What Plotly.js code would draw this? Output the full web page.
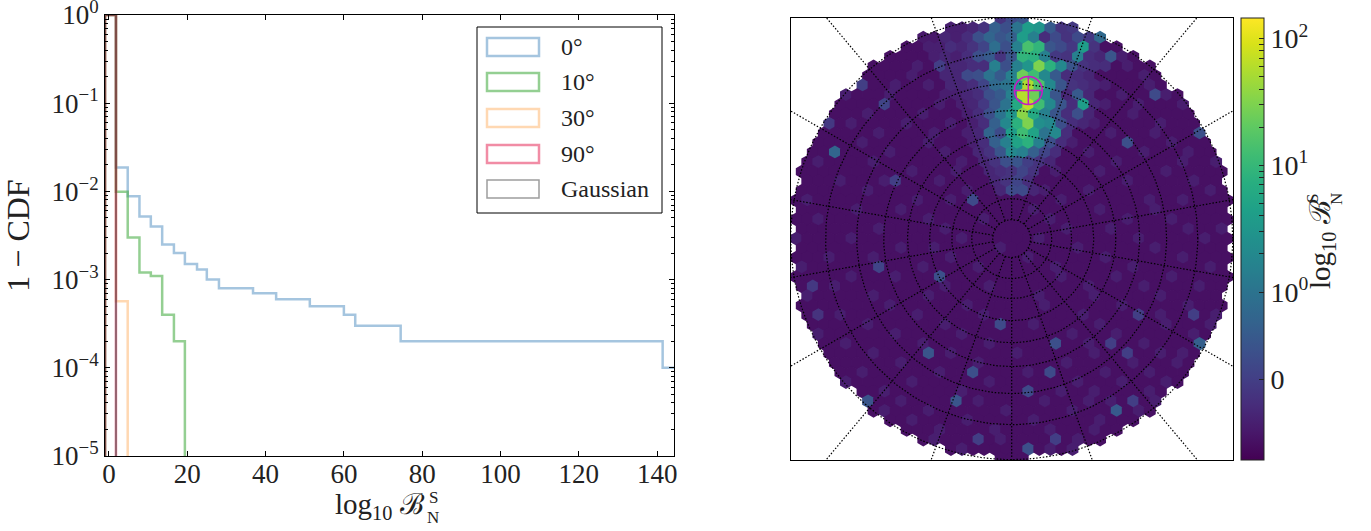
<!DOCTYPE html>
<html><head><meta charset="utf-8">
<script src="https://cdn.plot.ly/plotly-3.0.1.min.js"></script>
<style>html,body{margin:0;padding:0;background:#fff}#c{width:1371px;height:531px}</style></head>
<body><div id="c"></div>
<script>
const W=1371,H=531;
const FONT='"Liberation Serif","DejaVu Serif",serif';
const seriesNames=['0°','10°','30°','90°','Gaussian'];
const seriesColors=['rgba(55,126,184,0.45)','rgba(77,175,74,0.6)','rgba(255,127,0,0.3)','rgba(228,26,76,0.5)','rgba(60,60,60,0.5)'];
const x0=[-1,-1,1.8,4.8,7.8,10.7,13.6,16.6,19.4,22.5,25,28.1,36.8,42.7,51.3,60,62.9,74.5,141.4,144.5];
const y0=[1e-6,1,0.0187,0.0088,0.0052,0.004,0.0025,0.002,0.0015,0.0013,0.001,0.0008,0.0007,0.0006,0.0005,0.0004,0.0003,0.0002,0.0001,0.0001];
const x10=[-1,-1,1.8,4.8,7.8,10.7,13.6,16.6,19.4];
const y10=[1e-6,1,0.0099,0.003,0.0012,0.0011,0.0004,0.0002,1e-6];
const x30=[-1,-1,1.8,4.8];
const y30=[1e-6,1,0.00057,1e-6];
const x90=[-1,-1,1.8];
const y90=[1e-6,1,1e-6];
const xG=[-1,-1,1.8];
const yG=[1e-6,1,1e-6];
const yMajor=[1,0.1,0.01,0.001,0.0001,0.00001];
const yMajorText=['10<sup>0</sup>','10<sup>−1</sup>','10<sup>−2</sup>','10<sup>−3</sup>','10<sup>−4</sup>','10<sup>−5</sup>'];
const yMinor=[];
[0.1,0.01,0.001,0.0001,0.00001].forEach(d=>{[2,3,4,5,6,7,8,9].forEach(m=>yMinor.push(m*d));});

// sky map: default cell value, faint cells, and read-off cells [row, u, values at u, u+2, ...]
const skyBase=-0.72;
const skyFaintValue=-0.52;
const skyFaint=[
[3,[-20,-10,22]],[4,[-24,-14,20,26]],[5,[-27,-17,21,29]],[6,[-28,-18,12,24,30]],
[7,[-21,-15,17,25]],[8,[-30,-22,-12,20,28]],[9,[-33,-13,17,23,31]],[10,[-26,-16,12,22,34]],
[11,[-29,-19,-11,15,27]],[12,[-36,-24,-14,18,26,36]],[13,[-27,-15,11,29]],[14,[-22,-12,14,24,32]],
[15,[-35,-25,-9,19,31,37]],[16,[-18,-10,8,16,28]],[17,[-31,-23,-13,21,33]],[18,[-26,-8,6,14,36]],
[19,[-37,-17,-11,9,25,31]],[20,[-28,-20,4,16,26]],[21,[-35,-15,-5,7,21,29]],[22,[-24,-12,10,18,32,38]],
[23,[-39,-29,-9,5,23,35]],[24,[-20,-14,-2,12,26]],[25,[-33,-25,-11,3,17,31]],[26,[-38,-16,-6,8,22,36]],
[27,[-29,-21,9,19,29]],[28,[-32,-12,-4,14,24,34]],[29,[-37,-25,-15,5,15,27]],[30,[-22,-8,6,20,32]],
[31,[-31,-17,-5,13,27,37]],[32,[-26,-12,4,16,28,36]],[33,[-35,-21,-9,11,19,33]],[34,[-30,-16,-4,14,24]],
[35,[-25,-11,1,15,27,31]],[36,[-34,-20,-6,10,22,30]],[37,[-27,-13,3,17,25]],[38,[-30,-18,-4,12,20,28]],
[39,[-23,-9,9,15,25]],[40,[-20,-6,6,14,18,26]],[41,[-23,-15,-1,11,23]],[42,[-18,-8,4,16]],
[43,[-13,-3,7,15]],[44,[-14,-2,12]],[45,[-9,7,11]]
];
const skyCells=[
[0,-6,[-.5,-.3,-.2,.2,.4,1.2,2.2,1,.5,-.2]],
[1,-13,[-.6,-.5,-.5,-.4,-.2,.6,.3,1,4,3,.5,-.2,-.1,2.5,-.3]],
[2,-16,[-.6,-.6,-.4,-.5,-.3,.3,.7,.4,.6,4,1.5,-.3,.2,-.2,.2,-.1,.8,-.4]],
[3,-15,[-.5,-.5,-.3,-.4,-.2,.1,.9,.3,1.5,14,9,.4,.2,-.1,4,-.2]],
[4,-14,[-.5,-.4,-.5,-.3,.3,.5,-.2,.4,9,8,1.5,-.1,-.2,1.5,-.3,-.4,.4]],
[5,-13,[0,-.4,-.4,-.3,-.3,1.5,.3,1.5,3,30,8,2,.4,-.2,-.3,-.3]],
[6,-12,[-.4,-.4,.2,.3,1,.5,1.5,25,12,2,.5,-.3,-.3,-.4]],
[7,-27,[0]],
[7,-11,[-.4,-.4,-.3,.1,.8,1,3,55,15,2,.4,-.2,-.3,-.4]],
[8,-10,[-.5,-.4,-.3,.3,.5,1.5,60,25,2.5,.4,-.4,.5,-.4]],
[8,26,[.2]],
[9,-23,[.1]],
[9,-9,[-.5,-.4,-.1,.4,1,6,65,12,2,.4,-.3,4,-.4]],
[10,-8,[-.5,-.3,.3,1,3,35,6,1.5,.4,-.3,.3,-.4]],
[11,-33,[-.1]],
[11,-7,[-.5,-.3,.6,2,8,30,2.5,2,.3,-.3,-.4]],
[12,-8,[-.5,-.4,.7,.2,4,12,5,1,2,-.3]],
[12,34,[.3]],
[13,-7,[-.5,-.3,.6,1.5,5,8,1.5,.3,-.3]],
[13,21,[.3]],
[14,-32,[.7]],
[14,-6,[-.4,-.2,.4,2,1.5,.6,.1,-.3]],
[15,-5,[-.4,-.2,.3,.4,0,-.2,-.4]],
[16,-4,[-.4,-.3,-.2,.1,-.2]],
[17,-21,[0]],
[17,-3,[-.4,-.2,.1,-.3]],
[18,-2,[-.4,.2,.2,-.4]],
[19,-7,[.2]],
[19,36,[0,0,.5]],
[21,34,[0]],
[27,-13,[.3]],
[26,-24,[.1]],
[28,-36,[-.1]],
[31,-35,[-.2]],
[31,23,[0]],
[31,33,[0]],
[32,-2,[.2]],
[34,8,[.3]],
[34,18,[0]],
[34,34,[.6]],
[35,-15,[.4]],
[35,21,[0]],
[37,-7,[.3]],
[37,7,[.2]],
[39,3,[.2]],
[39,29,[.2]],
[40,-26,[.4]],
[40,-10,[.4]],
[40,22,[0]],
[41,19,[.5]],
[43,21,[.2]],
[44,-6,[0]],
[44,8,[0]],
[45,3,[.3]]
];
const skyMarker={x:0.0753,y:0.670};
const ringRadii=[.086,.181,.271,.371,.471,.579,.701,.842,1];
const spokeAngles=[0,20,40,60,80,100,120,140,160,180,200,220,240,260,280,300,320,340];
const cbValues=[0,1,2,3,4,5,6,7,8,9,10,20,30,40,50,60,70,80,90,100];
const cbLabels={0:'0',1:'10<sup>0</sup>',10:'10<sup>1</sup>',100:'10<sup>2</sup>'};
const xTicks=[0,20,40,60,80,100,120,140];

function scalePos(v){return v>=1?Math.log10(v):(v-1)*0.687;}

const lookup={};
skyFaint.forEach(([j,us])=>us.forEach(u=>{lookup[j+'_'+u]=skyFaintValue;}));
skyCells.forEach(([j,u,vals])=>vals.forEach((v,i)=>{lookup[j+'_'+(u+2*i)]=v;}));
const hx=[],hy=[],hc=[];
for(let j=0;j<=46;j++){
  for(let u=-41;u<=41;u++){
    if(((u%2)+2)%2!==j%2)continue;
    const x=u*0.025,y=(23-j)*0.0433;
    if(Math.hypot(x,y)>1.0)continue;
    const k=j+'_'+u;
    hx.push(x);hy.push(y);hc.push(scalePos(k in lookup?lookup[k]:skyBase));
  }
}
const traces=[];
[[x0,y0],[x10,y10],[x30,y30],[x90,y90],[xG,yG]].forEach((s,i)=>{
  traces.push({x:s[0],y:s[1],type:'scatter',mode:'lines',name:seriesNames[i],showlegend:false,hoverinfo:'skip',
    line:{shape:'hv',color:seriesColors[i],width:i==4?2:2.5},xaxis:'x',yaxis:'y'});
});
traces.push({x:hx,y:hy,type:'scatter',mode:'markers',xaxis:'x2',yaxis:'y2',showlegend:false,hoverinfo:'skip',
  marker:{symbol:'hexagon',size:13.7,color:hc,cmin:-1.326,cmax:2.163,colorscale:'Viridis',line:{width:0},
    colorbar:{x:1241/W,xanchor:'left',y:1-18/H,yanchor:'top',xpad:0,ypad:0,thicknessmode:'pixels',thickness:23,
      lenmode:'pixels',len:442,outlinewidth:1,outlinecolor:'#222',ticks:'inside',ticklen:5,tickcolor:'#222',
      tickmode:'array',tickvals:cbValues.map(scalePos),ticktext:cbValues.map(v=>cbLabels[v]||''),
      tickfont:{family:FONT,size:28,color:'#222'}}}});
ringRadii.forEach(r=>{
  const xs=[],ys=[];
  for(let a=0;a<=360;a+=2){xs.push(r*Math.cos(a*Math.PI/180));ys.push(r*Math.sin(a*Math.PI/180));}
  traces.push({x:xs,y:ys,type:'scatter',mode:'lines',xaxis:'x2',yaxis:'y2',showlegend:false,hoverinfo:'skip',
    line:{color:'#000',width:1.2,dash:'1.5px,1.8px'}});
});
spokeAngles.forEach(a=>{
  const t=a*Math.PI/180;
  traces.push({x:[.086*Math.sin(t),2*Math.sin(t)],y:[.086*Math.cos(t),2*Math.cos(t)],type:'scatter',mode:'lines',xaxis:'x2',yaxis:'y2',showlegend:false,hoverinfo:'skip',
    line:{color:'#000',width:1.2,dash:'1.5px,1.8px'}});
});
traces.push({x:[skyMarker.x],y:[skyMarker.y],type:'scatter',mode:'markers',xaxis:'x2',yaxis:'y2',showlegend:false,hoverinfo:'skip',
  marker:{symbol:'circle-cross-open',size:28,color:'#c71bc4',line:{color:'#c71bc4',width:1.5}}});

const px=v=>v/W, py=v=>1-v/H;
const shapes=[{type:'rect',xref:'paper',yref:'paper',x0:px(477),x1:px(662),y0:py(213),y1:py(27),line:{color:'#000',width:1},fillcolor:'#fff',layer:'above'}];
const annots=[];
const legY=[47,82,118,154,189];
seriesNames.forEach((n,i)=>{
  shapes.push({type:'rect',xref:'paper',yref:'paper',x0:px(487),x1:px(539),y0:py(legY[i]+9),y1:py(legY[i]-9),
    line:{color:seriesColors[i],width:i==4?1.5:2.5},fillcolor:'rgba(0,0,0,0)',layer:'above'});
  annots.push({xref:'paper',yref:'paper',x:px(559),y:py(legY[i]),xanchor:'left',yanchor:'middle',showarrow:false,text:n,font:{family:FONT,size:24,color:'#222'}});
});
const titleFont={family:FONT,size:29,color:'#222'};
const smallFont={family:FONT,size:17,color:'#222'};
annots.push({xref:'paper',yref:'paper',x:px(425),y:py(506),xanchor:'right',yanchor:'middle',xshift:2,showarrow:false,text:'log<sub>10</sub> ℬ',font:titleFont});
annots.push({xref:'paper',yref:'paper',x:px(433),y:py(497),xanchor:'center',yanchor:'middle',showarrow:false,text:'S',font:smallFont});
annots.push({xref:'paper',yref:'paper',x:px(433),y:py(517),xanchor:'center',yanchor:'middle',showarrow:false,text:'N',font:smallFont});
annots.push({xref:'paper',yref:'paper',x:px(1322),y:py(244),xanchor:'center',yanchor:'middle',textangle:-90,showarrow:false,text:'log<sub>10</sub> ℬ',font:titleFont});
annots.push({xref:'paper',yref:'paper',x:px(1312),y:py(199),xanchor:'center',yanchor:'middle',textangle:-90,showarrow:false,text:'S',font:smallFont});
annots.push({xref:'paper',yref:'paper',x:px(1336),y:py(199),xanchor:'center',yanchor:'middle',textangle:-90,showarrow:false,text:'N',font:smallFont});
const layout={width:W,height:H,margin:{l:0,r:0,t:0,b:0},paper_bgcolor:'#fff',plot_bgcolor:'#fff',showlegend:false,
  font:{family:FONT,color:'#222'},shapes:shapes,annotations:annots,
  xaxis:{domain:[px(105),px(674)],anchor:'y',range:[-1,144.3],tickmode:'array',tickvals:xTicks,ticks:'inside',ticklen:5,tickcolor:'#000',
    showgrid:false,zeroline:false,showline:true,linecolor:'#000',linewidth:1,mirror:'allticks',tickfont:{family:FONT,size:27,color:'#222'},ticklabelstandoff:-6},
  yaxis:{domain:[1-456/H,1-15/H],anchor:'x',type:'log',range:[-5,0],tickmode:'array',tickvals:yMajor,ticktext:yMajorText,ticks:'inside',ticklen:5,tickcolor:'#000',ticklabeloverflow:'allow',
    minor:{tickmode:'array',tickvals:yMinor,ticks:'inside',ticklen:3,tickcolor:'#000',showgrid:false},
    showgrid:false,zeroline:false,showline:true,linecolor:'#000',linewidth:1,mirror:'allticks',tickfont:{family:FONT,size:27,color:'#222'},
    title:{text:'1 − CDF',font:{family:FONT,size:32,color:'#222'},standoff:12}},
  xaxis2:{domain:[px(791),px(1233)],anchor:'y2',range:[-0.9986,1.0014],showticklabels:false,ticks:'',showgrid:false,zeroline:false,showline:true,linecolor:'#000',linewidth:1,mirror:true},
  yaxis2:{domain:[1-460/H,1-18/H],anchor:'x2',range:[-1.0018,0.998],showticklabels:false,ticks:'',showgrid:false,zeroline:false,showline:true,linecolor:'#000',linewidth:1,mirror:true}
};
Plotly.newPlot('c',traces,layout,{displayModeBar:false,staticPlot:true});
</script></body></html>
